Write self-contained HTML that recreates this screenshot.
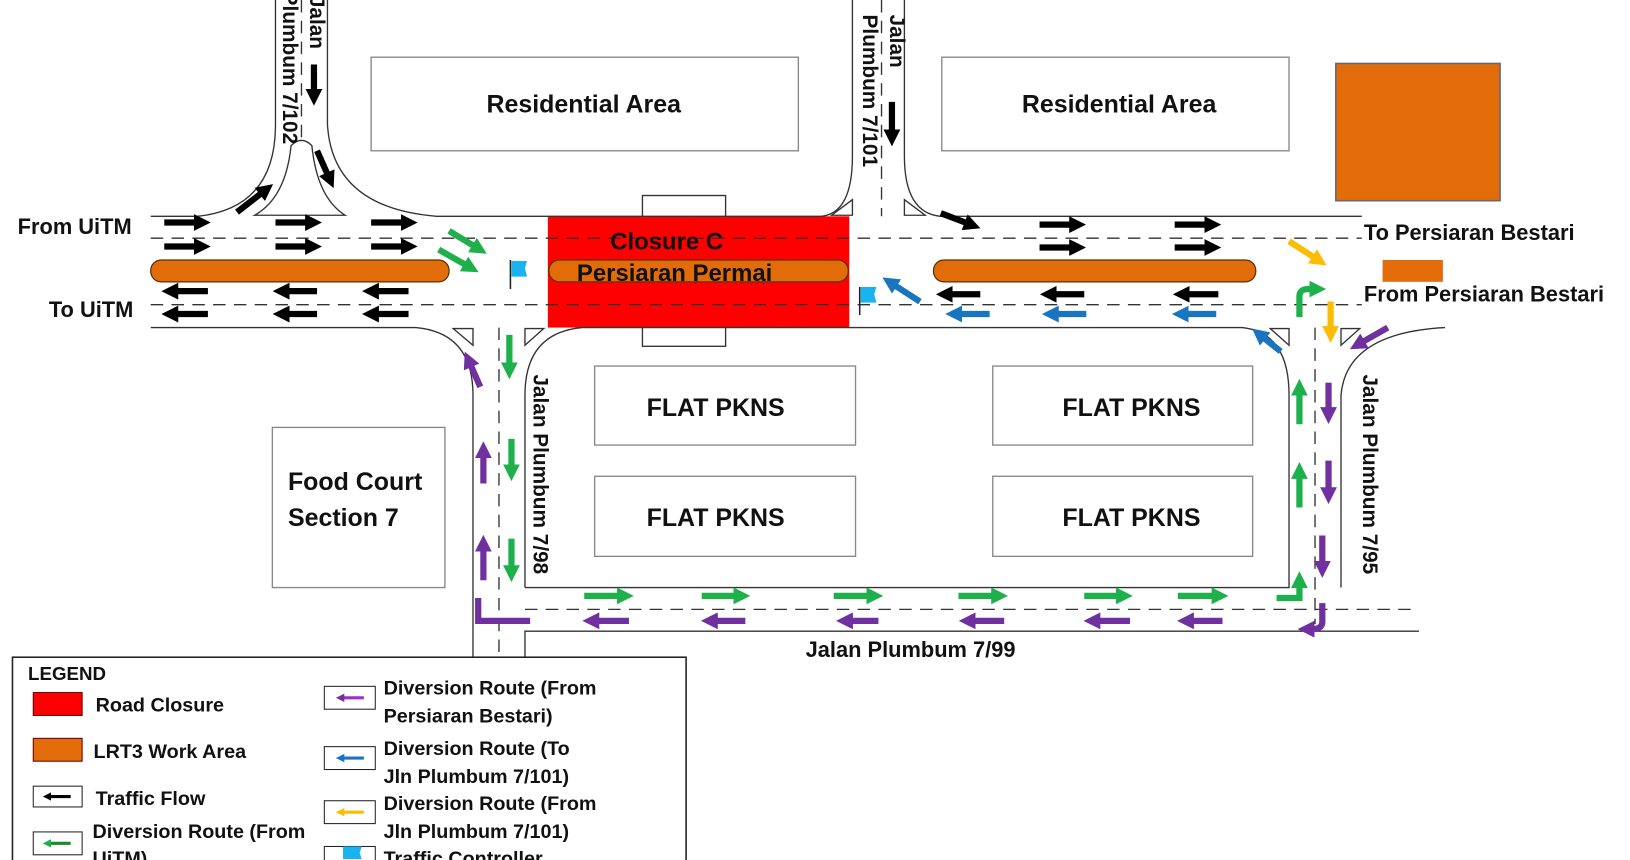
<!DOCTYPE html>
<html><head><meta charset="utf-8"><style>
html,body{margin:0;padding:0;background:#fff;overflow:hidden}
svg{display:block}
text{font-family:"Liberation Sans",Arial,sans-serif;font-weight:bold;fill:#111}
</style></head><body>
<svg width="1630" height="860" viewBox="0 0 1568 827" preserveAspectRatio="none" xmlns="http://www.w3.org/2000/svg">
<defs>
<marker id="k" viewBox="0 0 10 10" refX="4" refY="5" markerWidth="2.7" markerHeight="2.7" orient="auto"><path d="M0,0L10,5L0,10z" fill="#000"/></marker>
<marker id="g" viewBox="0 0 10 10" refX="4" refY="5" markerWidth="2.7" markerHeight="2.7" orient="auto"><path d="M0,0L10,5L0,10z" fill="#1db04b"/></marker>
<marker id="p" viewBox="0 0 10 10" refX="4" refY="5" markerWidth="2.7" markerHeight="2.7" orient="auto"><path d="M0,0L10,5L0,10z" fill="#7030a0"/></marker>
<marker id="b" viewBox="0 0 10 10" refX="4" refY="5" markerWidth="2.7" markerHeight="2.7" orient="auto"><path d="M0,0L10,5L0,10z" fill="#1a75c0"/></marker>
<marker id="y" viewBox="0 0 10 10" refX="4" refY="5" markerWidth="2.7" markerHeight="2.7" orient="auto"><path d="M0,0L10,5L0,10z" fill="#fbbc05"/></marker>
</defs>
<rect x="1285" y="61" width="158" height="132" fill="#e36c0a" stroke="#667" stroke-width="1.5"/>
<rect x="527" y="208" width="290" height="107" fill="#ff0000"/>
<g fill="none" stroke="#333" stroke-width="1.3">
<path d="M145,208H190Q265,200 265,120V0"/>
<path d="M315,0V120Q320,200 420,208H790Q820,205 820,150V0"/>
<path d="M870,0V150Q870,205 905,208H1310"/>
<path d="M145,315H400Q455,320 455,380V632"/>
<path d="M505,632V607H1365"/>
<path d="M505,565V380Q505,320 560,315H1195Q1240,320 1240,380V565H505"/>
<path d="M1290,565V380Q1295,320 1390,315"/>
<path d="M245,207Q275,190 280,140Q290,130 300,140Q305,190 332,207Z" fill="#fff"/>
<rect x="618" y="188" width="80" height="20" fill="#fff"/>
<rect x="618" y="315" width="80" height="18" fill="#fff"/>
<path d="M800,207L820,192V207Z"/><path d="M870,192L890,207H870Z"/>
<path d="M436,316H455V332Z"/><path d="M505,332V316H523Z"/>
<path d="M1222,316H1240V332Z"/><path d="M1290,332V316H1308Z"/>
</g>
<g fill="none" stroke="#333" stroke-width="1.3" stroke-dasharray="12,8">
<path d="M145,229H1310"/><path d="M145,293H1310"/>
<path d="M848,0V208"/><path d="M480,315V632"/><path d="M1265,315V600"/>
<path d="M505,586H1365"/><path d="M290,0V140"/>
</g>
<g fill="#e36c0a" stroke="#5a3000" stroke-width="1.2">
<rect x="145" y="250" width="287" height="21" rx="10"/>
<rect x="528" y="250" width="288" height="21" rx="10"/>
<rect x="898" y="250" width="310" height="21" rx="10"/>
<rect x="1330" y="250" width="58" height="21" stroke="none"/>
</g>
<g fill="#fff" stroke="#888" stroke-width="1.3">
<rect x="357" y="55" width="411" height="90"/>
<rect x="906" y="55" width="334" height="90"/>
<rect x="572" y="352" width="251" height="76"/>
<rect x="572" y="458" width="251" height="77"/>
<rect x="955" y="352" width="250" height="76"/>
<rect x="955" y="458" width="250" height="77"/>
<rect x="262" y="411" width="166" height="154"/>
</g>
<g stroke="#000" stroke-width="6" marker-end="url(#k)" fill="none">
<path d="M158,214H193"/><path d="M158,237H193"/><path d="M265,214H300"/><path d="M265,237H300"/><path d="M357,214H392"/><path d="M357,237H392"/>
<path d="M1000,216H1035"/><path d="M1000,238H1035"/><path d="M1130,216H1165"/><path d="M1130,238H1165"/>
<path d="M200,280H165"/><path d="M200,302H165"/><path d="M305,280H272"/><path d="M305,302H272"/><path d="M393,280H358"/><path d="M393,302H358"/>
<path d="M943,283H910"/><path d="M1043,283H1010"/><path d="M1172,283H1138"/>
<path d="M228,204L255,183"/><path d="M305,145L317,172"/><path d="M905,205L934,216"/>
<path d="M302,62V92"/><path d="M858,98V131"/>
</g>
<g stroke="#1a75c0" stroke-width="6" marker-end="url(#b)" fill="none">
<path d="M952,302H919"/><path d="M1045,302H1012"/><path d="M1170,302H1137"/>
<path d="M885,290L857,272"/><path d="M1232,338L1212,322"/>
</g>
<g stroke="#1db04b" stroke-width="6" marker-end="url(#g)" fill="none">
<path d="M432,222L460,239"/><path d="M422,240L452,257"/>
<path d="M490,322V355"/><path d="M492,422V453"/><path d="M492,518V550"/>
<path d="M562,573H600"/><path d="M675,573H712"/><path d="M802,573H840"/><path d="M922,573H960"/><path d="M1043,573H1080"/><path d="M1133,573H1172"/>
<path d="M1250,408V374"/><path d="M1250,488V454"/>
<path d="M1228,575H1250V559"/><path d="M1250,305V285Q1250,278 1258,278H1266"/>
</g>
<g stroke="#7030a0" stroke-width="6" marker-end="url(#p)" fill="none">
<path d="M462,372L451,347"/><path d="M465,465V434"/><path d="M465,558V524"/>
<path d="M605,597H570"/><path d="M717,597H684"/><path d="M845,597H814"/><path d="M966,597H932"/><path d="M1087,597H1052"/><path d="M1176,597H1142"/>
<path d="M1278,368V398"/><path d="M1278,443V475"/><path d="M1272,515V546"/>
<path d="M460,575V597H510" marker-end="none"/>
<path d="M1272,580V598Q1272,605 1262,605H1258"/>
<path d="M1335,315L1307,331"/>
</g>
<g stroke="#fbbc05" stroke-width="6" marker-end="url(#y)" fill="none">
<path d="M1240,232L1268,250"/><path d="M1280,290V320"/>
</g>
<g><line x1="491" y1="250" x2="491" y2="278" stroke="#222" stroke-width="1.5"/><path d="M492,251H507L505,258L507,266H492Z" fill="#19b4f0"/>
<line x1="827" y1="276" x2="827" y2="303" stroke="#222" stroke-width="1.5"/><path d="M828,276H843L841,283L843,291H828Z" fill="#19b4f0"/></g>
<g font-size="22">
<text x="468" y="108" font-size="24">Residential Area</text>
<text x="983" y="108" font-size="24">Residential Area</text>
<text x="587" y="240" font-size="23">Closure C</text>
<text x="555" y="270" font-size="23">Persiaran Permai</text>
<text x="622" y="400" font-size="24">FLAT PKNS</text>
<text x="622" y="506" font-size="24">FLAT PKNS</text>
<text x="1022" y="400" font-size="24">FLAT PKNS</text>
<text x="1022" y="506" font-size="24">FLAT PKNS</text>
<text x="277" y="471" font-size="24">Food Court</text>
<text x="277" y="506" font-size="24">Section 7</text>
<text x="17" y="225" font-size="21">From UiTM</text>
<text x="47" y="305" font-size="21">To UiTM</text>
<text x="1312" y="231" font-size="21">To Persiaran Bestari</text>
<text x="1312" y="290" font-size="21">From Persiaran Bestari</text>
<text x="775" y="632" font-size="21">Jalan Plumbum 7/99</text>
<text transform="translate(298,-4) rotate(90)" font-size="20">Jalan</text>
<text transform="translate(272,-8) rotate(90)" font-size="20">Plumbum 7/102</text>
<text transform="translate(856,14) rotate(90)" font-size="20">Jalan</text>
<text transform="translate(830,14) rotate(90)" font-size="20">Plumbum 7/101</text>
<text transform="translate(513,360) rotate(90)" font-size="20">Jalan Plumbum 7/98</text>
<text transform="translate(1311,360) rotate(90)" font-size="20">Jalan Plumbum 7/95</text>
</g>
<rect x="12" y="632" width="648" height="210" fill="#fff" stroke="#222" stroke-width="1.5"/>
<g font-size="19">
<text x="27" y="654" font-size="18">LEGEND</text>
<rect x="32" y="666" width="47" height="22" fill="#ff0000" stroke="#600"/>
<text x="92" y="684">Road Closure</text>
<rect x="32" y="710" width="47" height="22" fill="#e36c0a" stroke="#600"/>
<text x="90" y="729">LRT3 Work Area</text>
<rect x="32" y="756" width="47" height="20" fill="#fff" stroke="#222"/>
<path d="M68,766H46" stroke="#000" stroke-width="3" marker-end="url(#k)"/>
<text x="92" y="774">Traffic Flow</text>
<rect x="32" y="800" width="47" height="22" fill="#fff" stroke="#222"/>
<path d="M68,811H46" stroke="#1a8a2a" stroke-width="3" marker-end="url(#g)"/>
<text x="89" y="806">Diversion Route (From</text>
<text x="89" y="832">UiTM)</text>
<rect x="312" y="660" width="49" height="22" fill="#fff" stroke="#222"/>
<path d="M350,671H328" stroke="#9b2fc8" stroke-width="3" marker-end="url(#p)"/>
<text x="369" y="668">Diversion Route (From</text>
<text x="369" y="695">Persiaran Bestari)</text>
<rect x="312" y="718" width="49" height="22" fill="#fff" stroke="#222"/>
<path d="M350,729H328" stroke="#1a75c0" stroke-width="3" marker-end="url(#b)"/>
<text x="369" y="726">Diversion Route (To</text>
<text x="369" y="753">Jln Plumbum 7/101)</text>
<rect x="312" y="770" width="49" height="22" fill="#fff" stroke="#222"/>
<path d="M350,781H328" stroke="#fbbc05" stroke-width="3" marker-end="url(#y)"/>
<text x="369" y="779">Diversion Route (From</text>
<text x="369" y="806">Jln Plumbum 7/101)</text>
<rect x="312" y="814" width="49" height="22" fill="#fff" stroke="#222"/>
<path d="M330,814H348L346,820L348,826H330Z" fill="#19b4f0"/>
<text x="369" y="832">Traffic Controller</text>
</g>
</svg>
</body></html>
